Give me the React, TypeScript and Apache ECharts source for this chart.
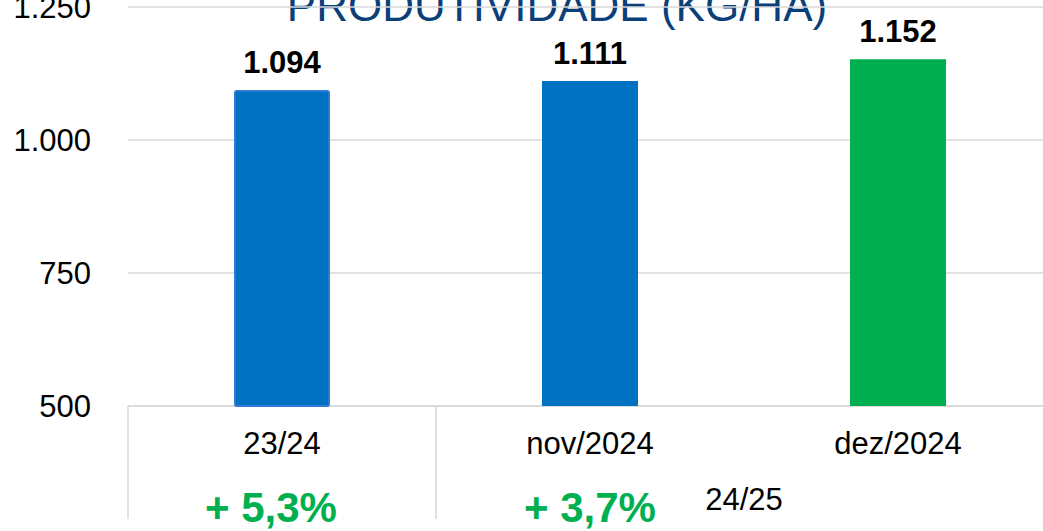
import React, { useEffect, useRef } from "react";
import * as echarts from "echarts";

const categories = ["23/24", "nov/2024", "dez/2024"];
const values = [1094, 1111, 1152];
const barColors = ["#0070C0", "#0070C0", "#00B050"];
const changes = ["+ 5,3%", "+ 3,7%", ""];
const groupLabel = "24/25";
const title = "PRODUTIVIDADE (KG/HA)";
const yMin = 500;
const yMax = 1250;
const yStep = 250;

const fmt = (v: number) => {
  const s = String(Math.round(v));
  return s.replace(/\B(?=(\d{3})+(?!\d))/g, ".");
};

export default function App() {
  const ref = useRef<HTMLDivElement>(null);
  useEffect(() => {
    document.body.style.margin = "0";
    const chart = echarts.init(ref.current!, null, { renderer: "svg" });
    const font = "'Liberation Sans', Arial, sans-serif";
    chart.setOption({
      animation: false,
      grid: {
        left: 128,
        right: -9,
        top: 7,
        height: 399,
        containLabel: false,
        outerBoundsMode: "none",
      },
      xAxis: [
        {
          type: "category",
          data: categories,
          position: "bottom",
          axisLine: { show: true, lineStyle: { color: "#d9d9d9", width: 1.5 } },
          axisTick: {
            show: true,
            length: 113,
            interval: (i: number) => i === 0 || i === 1,
            lineStyle: { color: "#d9d9d9", width: 1.5 },
          },
          axisLabel: { color: "#000", fontSize: 31, fontFamily: font, margin: 22 },
        },
        {
          type: "category",
          data: changes.map((c, i) => ({
            value: c,
            textStyle: { padding: i === 0 ? [0, 22, 0, 0] : [0, 0, 0, 0] },
          })),
          position: "bottom",
          axisLine: { show: false },
          axisTick: { show: false },
          axisLabel: {
            color: "#00B050",
            fontSize: 42,
            fontWeight: "bold",
            fontFamily: font,
            margin: 80,
          },
        },
      ],
      yAxis: {
        type: "value",
        min: yMin,
        max: yMax,
        interval: yStep,
        axisLine: { show: false },
        axisTick: { show: false },
        splitLine: { lineStyle: { color: "#d9d9d9", width: 1.5 } },
        axisLabel: {
          color: "#000",
          fontSize: 31,
          fontFamily: font,
          margin: 37,
          formatter: (v: number) => fmt(v),
        },
      },
      series: [
        {
          type: "bar",
          xAxisIndex: 0,
          barWidth: 96,
          data: values.map((v, i) => ({
            value: v,
            itemStyle: {
              color: barColors[i],
              borderColor: i === 0 ? "#2E7BD6" : barColors[i],
              borderWidth: i === 0 ? 2 : 0,
              borderRadius: i === 0 ? 2 : 0,
            },
          })),
          label: {
            show: true,
            position: "top",
            distance: 12,
            color: "#000",
            fontSize: 31,
            fontWeight: "bold",
            fontFamily: font,
            formatter: (p: any) => fmt(p.value),
          },
        },
      ],
      graphic: [
        {
          type: "text",
          x: 557,
          y: 5,
          style: {
            text: title,
            fill: "#0B3F7A",
            font: `44px ${font}`,
            align: "center",
            verticalAlign: "middle",
          },
        },
        {
          type: "text",
          x: 744,
          y: 499,
          style: {
            text: groupLabel,
            fill: "#000",
            font: `31px ${font}`,
            align: "center",
            verticalAlign: "middle",
          },
        },
      ],
    });
    return () => chart.dispose();
  }, []);
  return <div ref={ref} style={{ width: 1043, height: 531 }} />;
}
